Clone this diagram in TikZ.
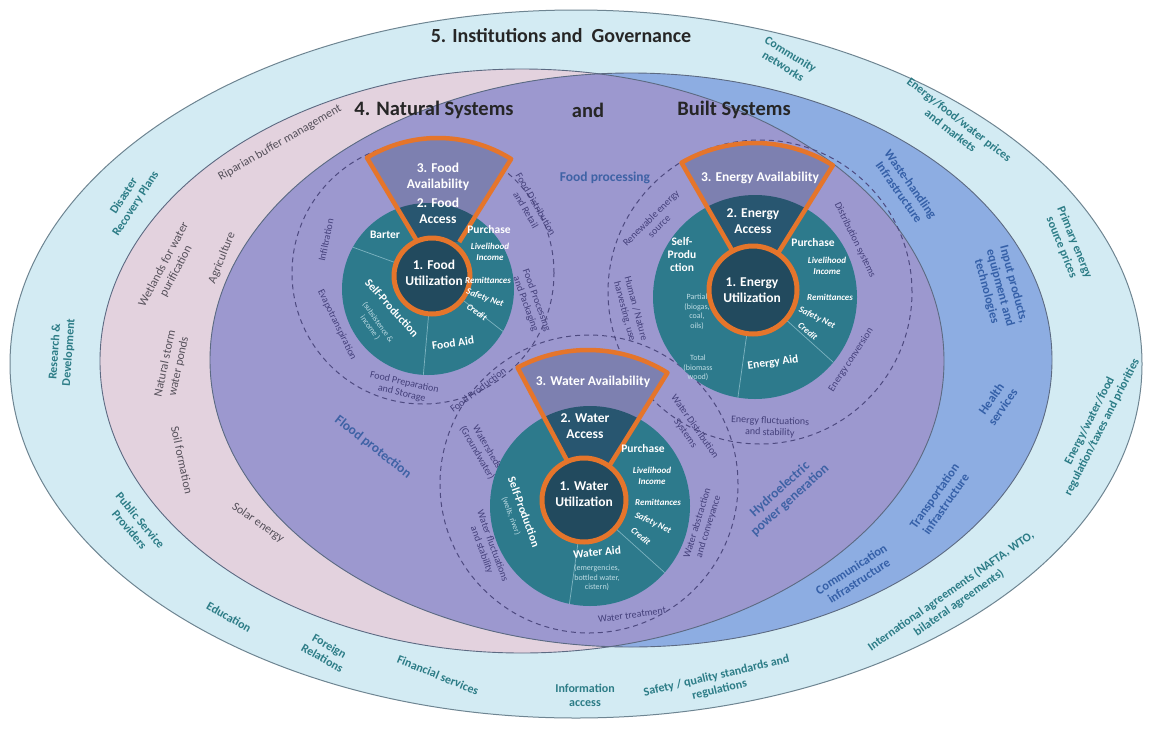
\documentclass[tikz,border=0pt]{standalone}
\usepackage{fontspec}
\setmainfont{Carlito}
\usetikzlibrary{calc}
\definecolor{outerFill}{HTML}{D3EBF3}
\definecolor{outerLine}{HTML}{6E8592}
\definecolor{pinkFill}{HTML}{E3D2DE}
\definecolor{blueFill}{HTML}{8DADE2}
\definecolor{purpFill}{HTML}{9C98CF}
\definecolor{ellLine}{HTML}{5C6A82}
\definecolor{dashC}{HTML}{4E4A80}
\definecolor{diskC}{HTML}{2D7A8C}
\definecolor{accessC}{HTML}{285670}
\definecolor{availC}{HTML}{7D80B0}
\definecolor{ringC}{HTML}{224A5E}
\definecolor{orangeC}{HTML}{E5752B}
\definecolor{divC}{HTML}{7DB3C0}
\definecolor{outerTxt}{HTML}{2C7C86}
\definecolor{blueTxt}{HTML}{3560A8}
\definecolor{pinkTxt}{HTML}{55505A}
\definecolor{purpTxt}{HTML}{3F62A5}
\definecolor{dashTxt}{HTML}{44407A}
\definecolor{lightTxt}{HTML}{BFDDE5}
\tikzset{
 outl/.style={font=\fontsize{12}{14}\selectfont\bfseries, text=outerTxt, align=center, inner sep=0pt},
 pinkl/.style={font=\fontsize{12}{14}\selectfont, text=pinkTxt, align=center, inner sep=0pt},
 bluel/.style={font=\fontsize{12.5}{14}\selectfont\bfseries, text=blueTxt, align=center, inner sep=0pt},
 purl/.style={font=\fontsize{13.5}{15}\selectfont\bfseries, text=purpTxt, align=center, inner sep=0pt},
 dashl/.style={font=\fontsize{10}{11.5}\selectfont, text=dashTxt, align=center, inner sep=0pt},
 bigw/.style={font=\fontsize{13.5}{16}\selectfont\bfseries, text=white, align=center, inner sep=0pt},
 midw/.style={font=\fontsize{11.5}{13}\selectfont\bfseries, text=white, align=center, inner sep=0pt},
 subw/.style={font=\fontsize{9}{10.5}\selectfont\bfseries\itshape, text=white, align=center, inner sep=0pt},
 tinyw/.style={font=\fontsize{8}{9.5}\selectfont, text=lightTxt, align=center, inner sep=0pt},
 headl/.style={font=\fontsize{20.5}{22}\selectfont\bfseries, text=black!85, inner sep=0pt},
 titl/.style={font=\fontsize{20}{22}\selectfont\bfseries, text=black!85, inner sep=0pt},
 ellborder/.style={draw=ellLine, line width=0.9pt},
 dashcirc/.style={draw=dashC, line width=1pt, dash pattern=on 5pt off 4pt},
 divline/.style={draw=divC, line width=0.7pt},
 wedgeline/.style={draw=orangeC, line width=4.5pt, line join=round},
 ringline/.style={draw=orangeC, line width=5pt, fill=ringC},
}
\begin{document}
\begin{tikzpicture}[x=1pt,y=1pt]
\useasboundingbox (0,0) rectangle (1153,-731);
\fill[white] (0,0) rectangle (1153,-731);
% --- layers ---
\coordinate (oc) at (576,-364);
\coordinate (pc) at (522,-361);
\coordinate (bc) at (631,-360);
\filldraw[fill=outerFill, draw=outerLine, line width=1pt] (oc) ellipse[x radius=566, y radius=354];
\fill[pinkFill] (pc) ellipse[x radius=422, y radius=292];
\fill[blueFill] (bc) ellipse[x radius=421, y radius=287];
\begin{scope}
 \clip (pc) ellipse[x radius=422, y radius=292];
 \fill[purpFill] (bc) ellipse[x radius=421, y radius=287];
\end{scope}
\draw[ellborder] (pc) ellipse[x radius=422, y radius=292];
\draw[ellborder] (bc) ellipse[x radius=421, y radius=287];
% --- dashed circles ---
\coordinate (fdash) at (423,-273);
\coordinate (edash) at (760,-292);
\coordinate (wdash) at (589,-484);
\draw[dashcirc] (fdash) circle[radius=131];
\draw[dashcirc] (edash) circle[radius=152];
\draw[dashcirc] (wdash) circle[radius=149];
% ================= FOOD =================
\coordinate (fR) at (432,-276);
\coordinate (fD) at (428,-289);
\coordinate (fS) at (438,-276);
\fill[diskC] (fD) circle[radius=86];
\begin{scope}
 \clip (fD) circle[radius=86];
 \draw[divline] (fR) -- ++(160:120);
 \draw[divline] (fR) -- ++(265:120);
 \draw[divline] (fR) -- ++(322:120);
\end{scope}
\fill[availC] ($(fS)+(58:40)$) -- ($(fS)+(58:138)$) arc[start angle=58,end angle=121,radius=138] -- ($(fS)+(121:40)$) -- cycle;
\begin{scope}
 \clip (fD) circle[radius=86];
 \fill[accessC] ($(fS)+(58:40)$) -- ($(fS)+(58:138)$) arc[start angle=58,end angle=121,radius=138] -- ($(fS)+(121:40)$) -- cycle;
\end{scope}
\draw[wedgeline] ($(fS)+(58:40)$) -- ($(fS)+(58:138)$) arc[start angle=58,end angle=121,radius=138] -- ($(fS)+(121:40)$);
\draw[ringline] (fR) circle[radius=38];
% ================= ENERGY =================
\coordinate (eR) at (753,-290);
\coordinate (eD) at (755,-297);
\coordinate (eS) at (755,-290);
\fill[diskC] (eD) circle[radius=102];
\begin{scope}
 \clip (eD) circle[radius=102];
 \draw[divline] (eR) -- ++(262:140);
 \draw[divline] (eR) -- ++(318:140);
\end{scope}
\fill[availC] ($(eS)+(58:44)$) -- ($(eS)+(58:147)$) arc[start angle=58,end angle=120,radius=147] -- ($(eS)+(120:44)$) -- cycle;
\begin{scope}
 \clip (eD) circle[radius=102];
 \fill[accessC] ($(eS)+(58:44)$) -- ($(eS)+(58:147)$) arc[start angle=58,end angle=120,radius=147] -- ($(eS)+(120:44)$) -- cycle;
\end{scope}
\draw[wedgeline] ($(eS)+(58:44)$) -- ($(eS)+(58:147)$) arc[start angle=58,end angle=120,radius=147] -- ($(eS)+(120:44)$);
\draw[ringline] (eR) circle[radius=44];
% ================= WATER =================
\coordinate (wR) at (584,-500);
\coordinate (wD) at (590,-506);
\coordinate (wS) at (588,-500);
\fill[diskC] (wD) circle[radius=100];
\begin{scope}
 \clip (wD) circle[radius=100];
 \draw[divline] (wR) -- ++(262:140);
 \draw[divline] (wR) -- ++(318:140);
\end{scope}
\fill[availC] ($(wS)+(58:42)$) -- ($(wS)+(58:150)$) arc[start angle=58,end angle=118,radius=150] -- ($(wS)+(118:42)$) -- cycle;
\begin{scope}
 \clip (wD) circle[radius=100];
 \fill[accessC] ($(wS)+(58:42)$) -- ($(wS)+(58:150)$) arc[start angle=58,end angle=118,radius=150] -- ($(wS)+(118:42)$) -- cycle;
\end{scope}
\draw[wedgeline] ($(wS)+(58:42)$) -- ($(wS)+(58:150)$) arc[start angle=58,end angle=118,radius=150] -- ($(wS)+(118:42)$);
\draw[ringline] (wR) circle[radius=42];
% ================= HEADINGS =================
\node[titl] (t5) at (561,-36) {5. Institutions and~ Governance};
\node[headl] (t4a) at (434,-110) {4. Natural Systems};
\node[headl] (t4b) at (588,-110) {and};
\node[headl] (t4c) at (734,-110) {Built Systems};
% ================= OUTER RING =================
\node[outl, rotate=57] (o1) at (130,-200) {Disaster\\Recovery Plans};
\node[outl, rotate=86] (o2) at (62,-352) {Research \&\\Development};
\node[outl, rotate=-50] (o3) at (135,-525) {Public Service\\Providers};
\node[outl, rotate=-30] (o4) at (229,-617) {Education};
\node[outl, rotate=-30] (o5) at (326,-652) {Foreign\\Relations};
\node[outl, rotate=-22] (o6) at (438,-675) {Financial services};
\node[outl] (o7) at (585,-695) {Information\\access};
\node[outl, rotate=13] (o8) at (718,-683) {Safety / quality standards and\\regulations};
\node[outl, rotate=35] (o9) at (955,-597) {International agreements (NAFTA, WTO,\\bilateral agreements)};
\node[outl, rotate=63] (o10) at (1096,-424) {Energy/water/food\\regulation/taxes and priorities};
\node[outl, rotate=-68] (o11) at (1068,-245) {Primary energy\\source prices};
\node[outl, rotate=-38] (o12) at (955,-125) {Energy/food/water prices\\and markets};
\node[outl, rotate=-32] (o13) at (787,-60) {Community\\networks};
% ================= PINK =================
\node[pinkl, rotate=30] (p1) at (280,-143) {Riparian buffer management};
\node[pinkl, rotate=62] (p2) at (170,-268) {Wetlands for water\\purification};
\node[pinkl, rotate=68] (p3) at (222,-258) {Agriculture};
\node[pinkl, rotate=78] (p4) at (172,-365) {Natural storm\\water ponds};
\node[pinkl, rotate=-78] (p5) at (182,-460) {Soil formation};
\node[pinkl, rotate=-35] (p6) at (258,-523) {Solar energy};
% ================= PURPLE =================
\node[purl] (q1) at (605,-178) {Food processing};
\node[purl, rotate=-38] (q2) at (373,-447) {Flood protection};
\node[purl, rotate=42] (q3) at (785,-495) {Hydroelectric\\power generation};
% ================= BLUE =================
\node[bluel, rotate=-55] (b1) at (905,-188) {Waste-handling\\Infrastructure};
\node[bluel, rotate=-75] (b2) at (1000,-288) {Input products,\\equipment and\\technologies};
\node[bluel, rotate=55] (b3) at (997,-403) {Health\\services};
\node[bluel, rotate=55] (b4) at (940,-500) {Transportation\\infrastructure};
\node[bluel, rotate=33] (b5) at (855,-575) {Communication\\infrastructure};
% ================= DASHED-CIRCLE LABELS =================
\node[dashl, rotate=-60] (d1) at (531,-207) {Food Distribution\\and Retail};
\node[dashl, rotate=-70] (d2) at (531,-302) {Food Processing\\and Packaging};
\node[dashl, rotate=37] (d3) at (478,-390) {Food Production};
\node[dashl, rotate=-13] (d4) at (403,-388) {Food Preparation\\and Storage};
\node[dashl, rotate=-64] (d5) at (337,-325) {Evapotranspiration};
\node[dashl, rotate=78] (d6) at (326,-240) {Infiltration};
\node[dashl, rotate=45] (d7) at (655,-222) {Renewable energy\\source};
\node[dashl, rotate=-75] (d8) at (630,-310) {Human / Nature\\harvesting, use};
\node[dashl, rotate=-64] (d9) at (855,-240) {Distribution systems};
\node[dashl, rotate=57] (d10) at (851,-360) {Energy conversion};
\node[dashl, rotate=-2] (d11) at (770,-427) {Energy fluctuations\\and stability};
\node[dashl, rotate=-55] (d12) at (690,-430) {Water Distribution\\Systems};
\node[dashl, rotate=73] (d13) at (703,-525) {Water abstraction\\and conveyance};
\node[dashl, rotate=8] (d14) at (632,-615) {Water treatment};
\node[dashl, rotate=-70] (d15) at (487,-548) {Water fluctuations\\and stability};
\node[dashl, rotate=-60] (d16) at (482,-450) {Watersheds\\(Groundwater)};
% ================= FOOD TEXT =================
\node[bigw] (f3) at (438,-177) {3. Food\\Availability};
\node[bigw] (f2) at (438,-211) {2. Food\\Access};
\node[bigw] (f1) at (434,-273) {1. Food\\Utilization};
\node[midw] (fb) at (385,-235) {Barter};
\node[midw] (fp) at (489,-230) {Purchase};
\node[subw] (fl) at (490,-252) {Livelihood\\Income};
\node[subw] (fr) at (488,-280) {Remittances};
\node[subw, rotate=-20] (fs) at (485,-298) {Safety Net};
\node[subw, rotate=-35] (fc) at (477,-312) {Credit};
\node[midw, rotate=-48] (fsp) at (392,-308) {Self-Production};
\node[tinyw, rotate=-55] (fsub) at (374,-325) {(subsistence \&\\income )};
\node[midw, rotate=8] (fa) at (453,-343) {Food Aid};
% ================= ENERGY TEXT =================
\node[bigw] (e3) at (760,-178) {3. Energy Availability};
\node[bigw] (e2) at (753,-221) {2. Energy\\Access};
\node[bigw] (e1) at (752,-290) {1. Energy\\Utilization};
\node[midw] (esp) at (682,-255) {Self-\\Produ\\ction};
\node[tinyw] (epa) at (697,-312) {Partial\\(biogas,\\coal,\\oils)};
\node[tinyw] (eto) at (698,-368) {Total\\(biomass\\wood)};
\node[midw] (ep) at (813,-243) {Purchase};
\node[subw] (el) at (827,-266) {Livelihood\\Income};
\node[subw] (er) at (830,-297) {Remittances};
\node[subw, rotate=-25] (es) at (817,-318) {Safety Net};
\node[subw, rotate=-40] (ec) at (808,-331) {Credit};
\node[midw, rotate=8] (ea) at (773,-363) {Energy Aid};
% ================= WATER TEXT =================
\node[bigw] (w3) at (593,-382) {3. Water Availability};
\node[bigw] (w2) at (585,-426) {2. Water\\Access};
\node[bigw] (w1) at (584,-494) {1. Water\\Utilization};
\node[midw] (wp) at (643,-448) {Purchase};
\node[subw] (wl) at (652,-476) {Livelihood\\Income};
\node[subw] (wr) at (658,-502) {Remittances};
\node[subw, rotate=-25] (ws) at (653,-523) {Safety Net};
\node[subw, rotate=-40] (wc) at (641,-536) {Credit};
\node[midw, rotate=5] (wa) at (597,-552) {Water Aid};
\node[tinyw] (wasub) at (597,-578) {(emergencies,\\bottled water,\\cistern)};
\node[midw, rotate=-70] (wsp) at (524,-512) {Self-Production};
\node[tinyw, rotate=-70] (wsub) at (511,-516) {(wells, river)};
\end{tikzpicture}
\end{document}
